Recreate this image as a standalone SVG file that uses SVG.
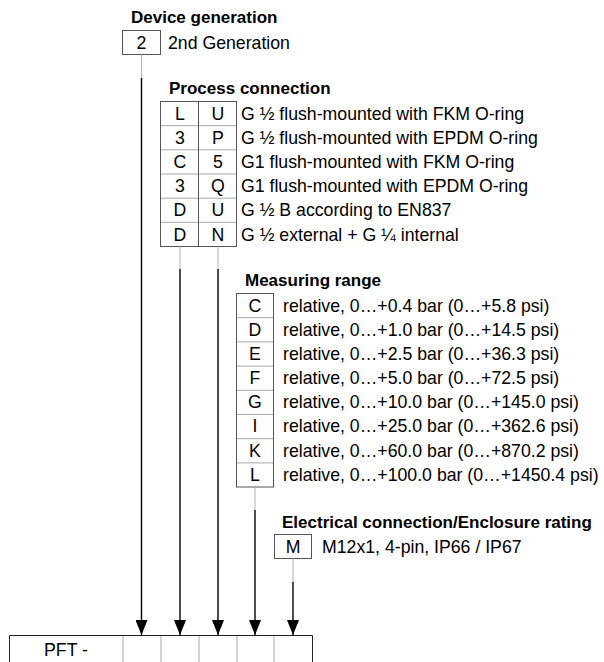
<svg xmlns="http://www.w3.org/2000/svg" width="604" height="662" viewBox="0 0 604 662">
<style>
text{font-family:"Liberation Sans",Arial,Helvetica,sans-serif;fill:#000}
.t{font-size:17px;font-weight:bold}
.b{font-size:17.7px}
.c{font-size:17.7px;text-anchor:middle}
.box{fill:#fff;stroke:#555;stroke-width:1}
.div{stroke:#aaa;stroke-width:1;fill:none}
.col{stroke:#555;stroke-width:1;fill:none}
.g{stroke:#b0b0b0;stroke-width:1;fill:none}
.k{stroke:#000;stroke-width:1.4;fill:none}
</style>
<defs>
<marker id="ah" markerWidth="15" markerHeight="12" refX="15" refY="6" orient="auto" markerUnits="userSpaceOnUse" viewBox="0 0 15 12">
<path d="M0,0 L15,6 L0,12 Z" fill="#000"/>
</marker>
</defs>

<g id="device-generation">
<text class="t" x="131" y="23">Device generation</text>
<rect class="box" x="122.5" y="30.5" width="38" height="24"/>
<text class="c" x="141.5" y="49">2</text>
<text class="b" x="168" y="49">2nd Generation</text>
</g>

<g id="process-connection">
<text class="t" x="169" y="94">Process connection</text>
<rect class="box" x="160.5" y="101.5" width="76" height="145"/>
<path class="div" d="M161,125.7H236M161,149.8H236M161,174H236M161,198.2H236M161,222.3H236"/>
<path class="col" d="M198.5,101.5V246.5"/>
<g class="c">
<text x="180" y="120">L</text><text x="218" y="120">U</text>
<text x="180" y="144">3</text><text x="218" y="144">P</text>
<text x="180" y="168">C</text><text x="218" y="168">5</text>
<text x="180" y="192">3</text><text x="218" y="192">Q</text>
<text x="180" y="216">D</text><text x="218" y="216">U</text>
<text x="180" y="241">D</text><text x="218" y="241">N</text>
</g>
<g class="b">
<text x="241" y="120">G ½ flush-mounted with FKM O-ring</text>
<text x="241" y="144">G ½ flush-mounted with EPDM O-ring</text>
<text x="241" y="168">G1 flush-mounted with FKM O-ring</text>
<text x="241" y="192">G1 flush-mounted with EPDM O-ring</text>
<text x="241" y="216">G ½ B according to EN837</text>
<text x="241" y="241">G ½ external + G ¼ internal</text>
</g>
</g>

<g id="measuring-range">
<text class="t" x="245" y="286">Measuring range</text>
<rect class="box" x="236.5" y="293.5" width="37" height="193.5"/>
<path class="div" d="M237,317.7H273M237,341.9H273M237,366.1H273M237,390.3H273M237,414.5H273M237,438.7H273M237,462.9H273"/>
<g class="c">
<text x="255" y="312">C</text><text x="255" y="336">D</text><text x="255" y="360">E</text><text x="255" y="384">F</text>
<text x="255" y="408">G</text><text x="255" y="432">I</text><text x="255" y="457">K</text><text x="255" y="481">L</text>
</g>
<g class="b">
<text x="283" y="312">relative, 0…+0.4 bar (0…+5.8 psi)</text>
<text x="283" y="336">relative, 0…+1.0 bar (0…+14.5 psi)</text>
<text x="283" y="360">relative, 0…+2.5 bar (0…+36.3 psi)</text>
<text x="283" y="384">relative, 0…+5.0 bar (0…+72.5 psi)</text>
<text x="283" y="408">relative, 0…+10.0 bar (0…+145.0 psi)</text>
<text x="283" y="432">relative, 0…+25.0 bar (0…+362.6 psi)</text>
<text x="283" y="457">relative, 0…+60.0 bar (0…+870.2 psi)</text>
<text x="283" y="481">relative, 0…+100.0 bar (0…+1450.4 psi)</text>
</g>
</g>

<g id="electrical-connection">
<text class="t" x="282" y="528">Electrical connection/Enclosure rating</text>
<rect class="box" x="274.5" y="534.5" width="37" height="24"/>
<text class="c" x="293" y="553">M</text>
<text class="b" x="322" y="553">M12x1, 4-pin, IP66 / IP67</text>
</g>

<g id="type-code">
<path d="M9.5,662V635.5H312.5V662" stroke="#222" stroke-width="1" fill="none"/>
<path class="div" d="M123,636V662M161,636V662M199,636V662M237,636V662M274,636V662"/>
<text x="66" y="656" style="font-size:17.7px;text-anchor:middle">PFT -</text>
</g>

<g id="connectors">
<path class="g" d="M141.5,54.5V78M180,246.5V269M218,246.5V269M255,487V510M293,558.5V582"/>
<path class="k" marker-end="url(#ah)" d="M141.5,78V635"/>
<path class="k" marker-end="url(#ah)" d="M180,269V635"/>
<path class="k" marker-end="url(#ah)" d="M218,269V635"/>
<path class="k" marker-end="url(#ah)" d="M255,510V635"/>
<path class="k" marker-end="url(#ah)" d="M293,582V635"/>
</g>
</svg>
